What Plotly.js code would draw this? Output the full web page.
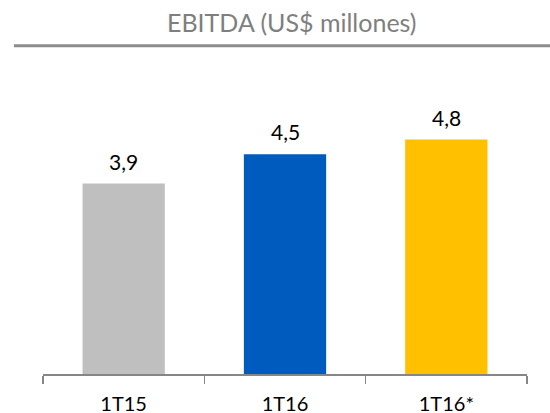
<!DOCTYPE html>
<html>
<head>
<meta charset="utf-8">
<script src="https://cdn.plot.ly/plotly-3.0.1.min.js"></script>
<style>html,body{margin:0;padding:0;background:#fff;}#chart{width:550px;height:413px;}</style>
</head>
<body>
<div id="chart"></div>
<script>
var categories = ["1T15", "1T16", "1T16*"];
var values = [3.9, 4.5, 4.8];
var barColors = ["#BFBFBF", "#005BBF", "#FFC000"];
var chartTitle = "EBITDA (US$ millones)";

var fontFamily = "Lato, 'Open Sans', sans-serif";

var trace = {
  type: "bar",
  x: categories,
  y: values,
  marker: {color: barColors, line: {width: 0}},
  hoverinfo: "none"
};

var annotations = categories.map(function(c, i) {
  return {
    x: c, y: values[i], xref: "x", yref: "y",
    text: values[i].toFixed(1).replace(".", ","),
    showarrow: false, yanchor: "bottom", yshift: 8,
    font: {family: fontFamily, size: 21, color: "#000000"}
  };
});

var layout = {
  width: 550, height: 413,
  margin: {l: 43, r: 23, t: 81, b: 39, pad: 0},
  paper_bgcolor: "#ffffff", plot_bgcolor: "#ffffff",
  showlegend: false,
  bargap: 0.49,
  title: {
    text: chartTitle,
    font: {family: fontFamily, size: 25, color: "#7F7F7F"},
    x: 0.514, xanchor: "center", y: 0.943, yanchor: "middle", xref: "paper", yref: "container"
  },
  xaxis: {
    type: "category", automargin: false,
    showline: true, linecolor: "#868686", linewidth: 1.5,
    ticks: "outside", tickson: "boundaries", ticklen: 8, tickcolor: "#868686", tickwidth: 1.5,
    ticklabelstandoff: 11,
    showgrid: false, zeroline: false,
    tickfont: {family: fontFamily, size: 20, color: "#000000"}
  },
  yaxis: {
    range: [0, 6], visible: false, showgrid: false, zeroline: false, fixedrange: true
  },
  shapes: [{
    type: "line", xref: "paper", yref: "paper",
    x0: -0.06, x1: 1.05, y0: 1.12, y1: 1.12,
    line: {color: "#8C8C8C", width: 3}
  }],
  annotations: annotations
};

Plotly.newPlot("chart", [trace], layout, {displayModeBar: false, staticPlot: true});
</script>
</body>
</html>
